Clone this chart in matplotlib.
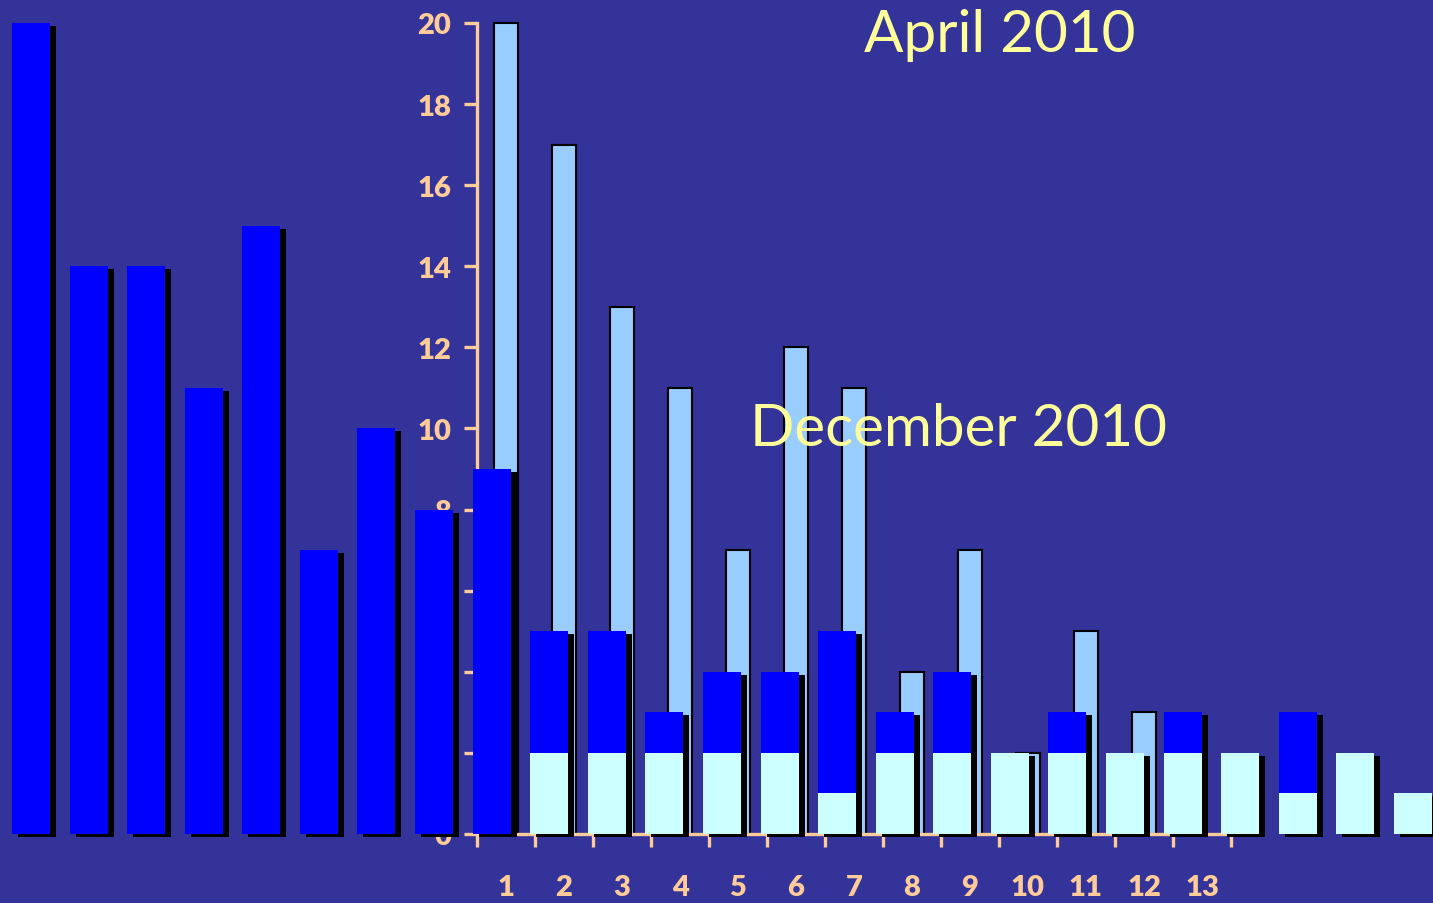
import matplotlib
matplotlib.use("Agg")
import matplotlib.pyplot as plt
import numpy as np

# ---- data ----
april_labels = ["1", "2", "3", "4", "5", "6", "7", "8", "9", "10", "11", "12", "13"]
april_values = [20, 17, 13, 11, 7, 12, 11, 4, 7, 2, 5, 3, 0]

dec_total = [20, 14, 14, 11, 15, 7, 10, 8, 9, 5, 5, 3, 4, 4, 5, 3, 4, 2, 3, 2, 3, 2, 3, 2, 1]
dec_lower = [0, 0, 0, 0, 0, 0, 0, 0, 0, 2, 2, 2, 2, 2, 1, 2, 2, 2, 2, 2, 2, 2, 1, 2, 1]

y_ticks = [0, 2, 4, 6, 8, 10, 12, 14, 16, 18, 20]

# ---- style ----
BG = "#333399"
PEACH = "#FFCC99"
LIGHT = "#99CCFF"
BLUE = "#0000FF"
CYAN = "#CCFFFF"
YELLOW = "#FFFF99"

W, H = 1433, 904
fig = plt.figure(figsize=(W / 100, H / 100), dpi=100, facecolor=BG)

# April chart (behind)
ax1 = fig.add_axes([477 / W, 69 / H, (1231 - 477) / W, 811 / H])
ax1.set_facecolor(BG)
ax1.set_zorder(1)
xa = np.arange(len(april_values)) + 0.5
ax1.bar(xa, april_values, width=0.41, color=LIGHT, edgecolor="black",
        linewidth=1.5, clip_on=False)
ax1.set_xlim(0, len(april_values))
ax1.set_ylim(0, 20)
for s in ["top", "right"]:
    ax1.spines[s].set_visible(False)
for s in ["left", "bottom"]:
    ax1.spines[s].set_color(PEACH)
    ax1.spines[s].set_linewidth(2.4)
ax1.set_yticks(y_ticks)
ax1.set_yticklabels([str(v) for v in y_ticks])
ax1.tick_params(axis="y", colors=PEACH, length=9.4, width=2.4, pad=9,
                labelsize=21)
ax1.set_xticks(np.arange(len(april_values) + 1))
ax1.set_xticklabels([])
ax1.set_xticks(xa, minor=True)
ax1.set_xticklabels(april_labels, minor=True)
ax1.tick_params(axis="x", which="major", colors=PEACH, length=9.4, width=2.4)
ax1.tick_params(axis="x", which="minor", colors=PEACH, length=0, pad=29,
                labelsize=21)
for lab in ax1.get_xticklabels(minor=True) + ax1.get_yticklabels():
    lab.set_fontfamily("Lato")
    lab.set_fontweight("heavy")

# December chart (front)
ax2 = fig.add_axes([0, 69 / H, 1, 811 / H])
ax2.set_zorder(2)
ax2.patch.set_visible(False)
step = 57.58
xd = np.arange(len(dec_total))
ax2.set_xlim(-31 / step, (W - 31) / step)
ax2.set_ylim(0, 20)
ax2.axis("off")
dx = 6 / step
dy = 3 / 40.55
total = np.array(dec_total)
lower = np.array(dec_lower)
ax2.bar(xd + dx, total, bottom=-dy, width=0.66, color="black", clip_on=False)
ax2.bar(xd, lower, width=0.66, color=CYAN, clip_on=False)
ax2.bar(xd, total - lower, bottom=lower, width=0.66, color=BLUE, clip_on=False)

fig.text(1000 / W, 1 - 35 / H, "April 2010", ha="center", va="center",
         color=YELLOW, fontsize=42, family="Lato", zorder=5)
fig.text(958 / W, 1 - 430 / H, "December 2010", ha="center", va="center",
         color=YELLOW, fontsize=42, family="Lato", zorder=5)

fig.savefig("out.png", dpi=100, facecolor=BG)
